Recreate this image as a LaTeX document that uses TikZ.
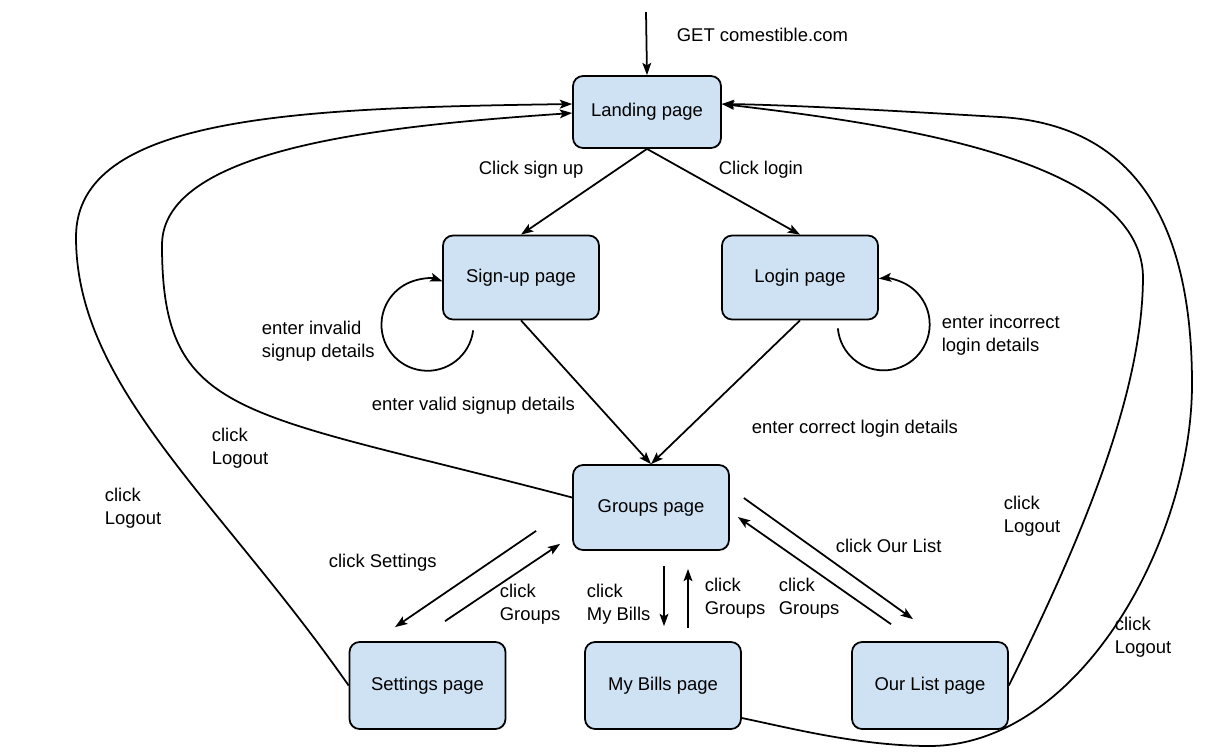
\documentclass[tikz,border=0pt]{standalone}
\usepackage{fontspec}
\setmainfont{Liberation Sans}
\usetikzlibrary{arrows.meta}
\definecolor{pagefill}{HTML}{CFE2F3}
\tikzset{
  page/.style={shape=rectangle, rounded corners=0.2cm, draw=black, line width=1pt,
    fill=pagefill, minimum width=3.12cm, minimum height=1.68cm, inner sep=0pt},
  lbl/.style={anchor=west, align=left, inner sep=0pt},
  every node/.style={font=\fontsize{10.5}{13}\selectfont},
}
\begin{document}
\begin{tikzpicture}[x=0.02cm, y=0.02cm, line width=1pt, >={Stealth[length=7pt,width=5pt,inset=1.5pt]}]
    \useasboundingbox (0,0) rectangle (1207,-755);
    \node[page, minimum width=2.96cm, minimum height=1.44cm] at (647,-112) (Lnd) {Landing page};
    \node[page] at (521,-277.5) (Sup) {Sign-up page};
    \node[page] at (800,-277.5) (Log) {Login page};
    \node[page, minimum height=1.7cm] at (651,-507.5) (Grp) {Groups page};
    \node[page, minimum height=1.74cm] at (427.5,-685.5) (Set) {Settings page};
    \node[page, minimum height=1.74cm] at (663,-685.5) (Bil) {My Bills page};
    \node[page, minimum height=1.74cm] at (930,-685.5) (Our) {Our List page};
    \coordinate (Start) at (646,-12);

    \path [->] (Start) edge (Lnd.north);
    \path [->] (Lnd.south) edge (Sup.north);
    \path [->] (Lnd.south) edge (Log.north);
    \path [->] (Sup.south) edge (Grp.north);
    \path [->] (Log.south) edge (Grp.north);
    \draw [->] ([shift={(31,-10)}]Sup.south west) arc[start angle=-7, end angle=-289, radius=46];
    \draw [->] ([shift={(-41,-8)}]Log.south east) arc[start angle=185, end angle=456, radius=46];
    \path [->] ([shift={(-36,20)}]Grp.south west) edge ([shift={(-32.5,14)}]Set.north);
    \path [->] ([shift={(17.5,20)}]Set.north) edge ([shift={(-12,7)}]Grp.south west);
    \path [->] ([shift={(13,-15)}]Grp.south) edge ([shift={(1,15)}]Bil.north);
    \path [->] ([shift={(25,13)}]Bil.north) edge ([shift={(37,-18)}]Grp.south);
    \path [->] ([shift={(14,9.5)}]Grp.east) edge ([shift={(-17,22)}]Our.north);
    \path [->] ([shift={(-39,17)}]Our.north) edge ([shift={(8,-9.5)}]Grp.east);
    % logout curves
    \draw [->] ([shift={(0,10)}]Grp.west) .. controls (240,-410) and (162,-420) .. (162,-245)
        .. controls (162,-145) and (400,-125) .. ([shift={(0,-1)}]Lnd.west);
    \draw [->] (Set.west) .. controls (219,-500) and (76,-387) .. (76,-237)
        .. controls (76,-115) and (300,-108) .. ([shift={(0,8)}]Lnd.west);
    \draw [->] (Our.east) .. controls (1078,-546) and (1143,-396) .. (1143,-276)
        .. controls (1140,-160) and (900,-125) .. ([shift={(0,8)}]Lnd.east);
    \draw [->] ([shift={(0,-32.5)}]Bil.east) .. controls (790,-728) and (860,-746) .. (930,-746)
        .. controls (1080,-745) and (1192,-540) .. (1192,-384)
        .. controls (1192,-230) and (1140,-125) .. (1000,-117)
        .. controls (930,-113) and (800,-105) .. ([shift={(0,8)}]Lnd.east);

    \node[lbl] at (676,-35) (lGet) {GET comestible.com};
    \node[lbl] at (478,-170) (lSup) {Click sign up};
    \node[lbl] at (718,-170) (lLog) {Click login};
    \node[lbl] at (261,-341) (lInv) {enter invalid\\signup details};
    \node[lbl] at (941,-335) (lInc) {enter incorrect\\login details};
    \node[lbl] at (371,-406) (lVal) {enter valid signup details};
    \node[lbl] at (751,-429) (lCor) {enter correct login details};
    \node[lbl] at (211,-448) (lOutA) {click\\Logout};
    \node[lbl] at (104,-508) (lOutB) {click\\Logout};
    \node[lbl] at (328,-563) (lSet) {click Settings};
    \node[lbl] at (499,-604) (lGrpA) {click\\Groups};
    \node[lbl] at (586,-604) (lBil) {click\\My Bills};
    \node[lbl] at (704,-598) (lGrpB) {click\\Groups};
    \node[lbl] at (778,-598) (lGrpC) {click\\Groups};
    \node[lbl] at (835,-546) (lOur) {click Our List};
    \node[lbl] at (1003,-516) (lOutC) {click\\Logout};
    \node[lbl] at (1114,-637) (lOutD) {click\\Logout};
\end{tikzpicture}
\end{document}
